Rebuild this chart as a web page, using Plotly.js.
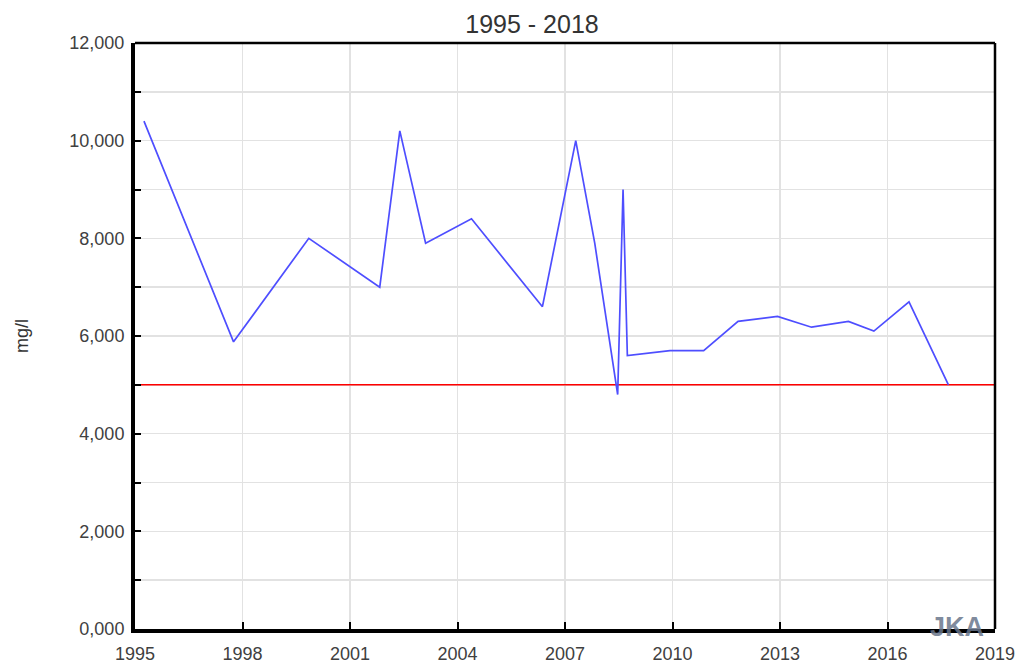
<!DOCTYPE html>
<html>
<head>
<meta charset="utf-8">
<script src="https://cdn.plot.ly/plotly-3.0.1.min.js"></script>
<style>html,body{margin:0;padding:0;background:#fff;}#chart{width:1021px;height:664px;}</style>
</head>
<body>
<div id="chart"></div>
<script>
// Sample dates (decimal years) and measured values (mg/l)
var sampleYears = [1995.25, 1997.75, 1999.85, 2001.83, 2002.39, 2003.11, 2004.39, 2006.37, 2007.30, 2007.83,
                   2008.47, 2008.62, 2008.74, 2009.93, 2010.87, 2011.83, 2012.93, 2013.88, 2014.91, 2015.62,
                   2016.60, 2017.70];
var sampleValues = [10.4, 5.88, 8.0, 7.0, 10.2, 7.9, 8.4, 6.6, 10.0, 7.9,
                    4.8, 9.0, 5.6, 5.7, 5.7, 6.3, 6.4, 6.18, 6.3, 6.1,
                    6.7, 5.0];
// Limit line
var limitYears = [1995, 2019];
var limitValues = [5, 5];
var subtitleText = '1995 - 2018';
var yAxisLabel = 'mg/l';
var watermark = 'JKA';

var traces = [
  {x: limitYears, y: limitValues, type: 'scatter', mode: 'lines',
   line: {color: '#ff0000', width: 1.5}, hoverinfo: 'skip', showlegend: false},
  {x: sampleYears, y: sampleValues, type: 'scatter', mode: 'lines',
   line: {color: 'rgb(78,78,255)', width: 1.7}, showlegend: false}
];

var fontFam = '"Liberation Sans", Arial, sans-serif';
var layout = {
  width: 1021, height: 664,
  margin: {l: 135, r: 26, t: 43, b: 35},
  paper_bgcolor: '#ffffff', plot_bgcolor: '#ffffff',
  separators: ',.',
  font: {family: fontFam, color: '#404040', size: 18},
  title: {text: subtitleText, font: {family: fontFam, size: 25, color: '#333333'},
          x: 532/1021, xanchor: 'center', xref: 'container', y: 1 - 24/664, yanchor: 'middle', yref: 'container'},
  xaxis: {range: [1995, 2019], tick0: 1995, dtick: 3, tickmode: 'linear',
          showline: true, linecolor: '#000', linewidth: 4,
          ticks: 'inside', ticklen: 7, tickwidth: 2, tickcolor: '#000',
          showgrid: true, gridcolor: '#e2e2e2', gridwidth: 1.5, zeroline: false,
          ticklabelstandoff: 5,
          tickfont: {family: fontFam, size: 18, color: '#404040'}, fixedrange: true},
  yaxis: {range: [0, 12], tick0: 0, dtick: 2, tickmode: 'linear', tickformat: '.3f',
          showline: true, linecolor: '#000', linewidth: 4,
          ticks: 'inside', ticklen: 6, tickwidth: 2, tickcolor: '#000',
          showgrid: true, gridcolor: '#e2e2e2', gridwidth: 1.5, zeroline: false,
          ticklabelstandoff: 3,
          minor: {dtick: 1, tick0: 0, ticks: 'inside', ticklen: 6, tickwidth: 2, tickcolor: '#000',
                  showgrid: true, gridcolor: '#e2e2e2', gridwidth: 1.5},
          tickfont: {family: fontFam, size: 18, color: '#404040'},
          title: {text: yAxisLabel, font: {family: fontFam, size: 18, color: '#333333'}, standoff: 37},
          fixedrange: true},
  shapes: [
    {type: 'line', xref: 'paper', yref: 'paper', x0: 0, x1: 1, y0: 1, y1: 1, line: {color: '#000', width: 2.5}},
    {type: 'line', xref: 'paper', yref: 'paper', x0: 1, x1: 1, y0: 0, y1: 1, line: {color: '#000', width: 2.5}}
  ],
  annotations: [
    {text: '<b>' + watermark + '</b>', xref: 'paper', yref: 'paper', x: 0.99, y: -0.026,
     xanchor: 'right', yanchor: 'bottom', showarrow: false,
     font: {family: fontFam, size: 27, color: 'rgba(105,118,140,0.85)'}}
  ]
};

Plotly.newPlot('chart', traces, layout, {displayModeBar: false, staticPlot: true});
</script>
</body>
</html>
